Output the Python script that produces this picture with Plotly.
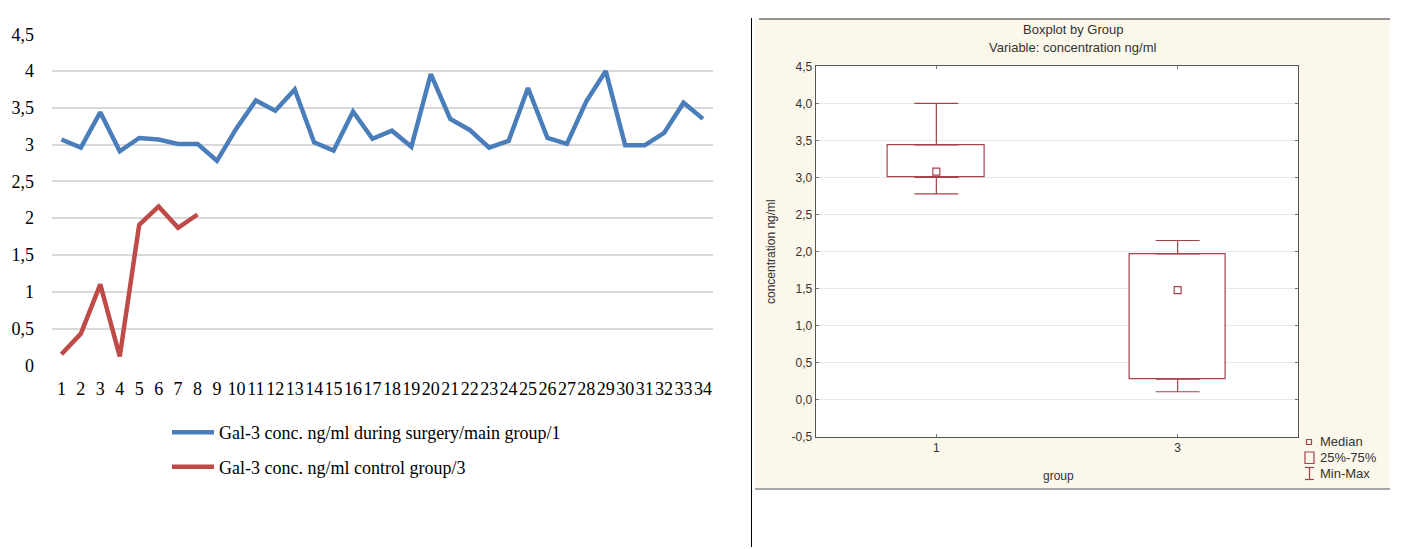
import plotly.graph_objects as go

# ---------------- data ----------------
patients = [str(i) for i in range(1, 35)]
main_group = [3.07, 2.96, 3.44, 2.91, 3.09, 3.07, 3.01, 3.01, 2.78, 3.22,
              3.60, 3.46, 3.75, 3.03, 2.92, 3.45, 3.08, 3.19, 2.97, 3.96,
              3.35, 3.20, 2.96, 3.05, 3.77, 3.09, 3.01, 3.59, 4.00, 2.99,
              2.99, 3.16, 3.57, 3.35]
control_group = [0.15, 0.43, 1.10, 0.12, 1.91, 2.16, 1.87, 2.05]
main_name = "Gal-3 conc. ng/ml during surgery/main group/1"
control_name = "Gal-3 conc. ng/ml control group/3"

left_tickvals = [0, 0.5, 1, 1.5, 2, 2.5, 3, 3.5, 4, 4.5]
left_ticktext = ["0", "0,5", "1", "1,5", "2", "2,5", "3", "3,5", "4", "4,5"]

groups = ["1", "3"]
q1 = [3.00, 0.28]
median = [3.08, 1.48]
q3 = [3.44, 1.97]
minimum = [2.78, 0.11]
maximum = [4.00, 2.15]

right_tickvals = [-0.5, 0, 0.5, 1, 1.5, 2, 2.5, 3, 3.5, 4, 4.5]
right_ticktext = ["-0,5", "0,0", "0,5", "1,0", "1,5", "2,0", "2,5", "3,0", "3,5", "4,0", "4,5"]

# ---------------- styles ----------------
W, H = 1414, 549
BLUE = "#4A7EBB"
RED = "#BE4B48"
BOXRED = "#A5434B"
SERIF = "Liberation Serif"
SANS = "Liberation Sans"

# page offset / scaling compensation
OX, OY, SY = 8.0, 17.0, 0.9636


def X(x):
    return (x - OX) / W


def Y(y):
    return (H - (y - OY) / SY) / H


fig = go.Figure()

fig.add_trace(go.Scatter(x=patients, y=main_group, mode="lines", name=main_name,
                         line=dict(color=BLUE, width=4.5), legendgroup="a"))
fig.add_trace(go.Scatter(x=patients[:len(control_group)], y=control_group, mode="lines",
                         name=control_name, line=dict(color=RED, width=4.5), legendgroup="b"))

# box (25%-75%)
fig.add_trace(go.Bar(x=groups, y=[b - a for a, b in zip(q1, q3)], base=q1, width=0.4,
                     marker=dict(color="white", line=dict(color=BOXRED, width=1.2)),
                     xaxis="x2", yaxis="y2", showlegend=False, name="25%-75%"))
# upper whisker
fig.add_trace(go.Scatter(x=groups, y=q3, mode="markers",
                         marker=dict(size=1, color="rgba(0,0,0,0)"),
                         error_y=dict(type="data", symmetric=False,
                                      array=[b - a for a, b in zip(q3, maximum)],
                                      arrayminus=[0] * len(groups),
                                      color=BOXRED, thickness=1.2, width=22),
                         xaxis="x2", yaxis="y2", showlegend=False, name="Max"))
# lower whisker
fig.add_trace(go.Scatter(x=groups, y=q1, mode="markers",
                         marker=dict(size=1, color="rgba(0,0,0,0)"),
                         error_y=dict(type="data", symmetric=False,
                                      array=[0] * len(groups),
                                      arrayminus=[a - b for a, b in zip(q1, minimum)],
                                      color=BOXRED, thickness=1.2, width=22),
                         xaxis="x2", yaxis="y2", showlegend=False, name="Min"))
# median
fig.add_trace(go.Scatter(x=groups, y=median, mode="markers",
                         marker=dict(symbol="square-open", size=7, color=BOXRED,
                                     line=dict(width=1.2, color=BOXRED)),
                         xaxis="x2", yaxis="y2", showlegend=False, name="Median"))

TOP = 0.998
shapes = [
    # right panel cream background
    dict(type="rect", xref="paper", yref="paper", x0=X(755), x1=X(1390),
         y0=Y(488), y1=TOP, fillcolor="#FBF7EB", line=dict(width=0), layer="below"),
    dict(type="rect", xref="x2 domain", yref="y2 domain", x0=0, x1=1, y0=0, y1=1,
         fillcolor="white", line=dict(width=0), layer="below"),
    dict(type="line", xref="paper", yref="paper", x0=X(759), x1=X(1390),
         y0=TOP, y1=TOP, line=dict(color="#707070", width=1.5)),
    dict(type="line", xref="paper", yref="paper", x0=X(755), x1=X(1390),
         y0=Y(488), y1=Y(488), line=dict(color="#8a8a8a", width=1.5)),
    # divider
    dict(type="line", xref="paper", yref="paper", x0=X(751.5), x1=X(751.5),
         y0=0, y1=1, line=dict(color="black", width=1)),
    # right legend icons
    dict(type="rect", xref="paper", yref="paper", x0=X(1306.5), x1=X(1311.5),
         y0=Y(443.5), y1=Y(438.5), line=dict(color=BOXRED, width=1.2)),
    dict(type="rect", xref="paper", yref="paper", x0=X(1305), x1=X(1314),
         y0=Y(462.5), y1=Y(451), line=dict(color=BOXRED, width=1.2)),
    dict(type="line", xref="paper", yref="paper", x0=X(1309.5), x1=X(1309.5),
         y0=Y(478.5), y1=Y(466.5), line=dict(color=BOXRED, width=1.2)),
    dict(type="line", xref="paper", yref="paper", x0=X(1305), x1=X(1314),
         y0=Y(466.5), y1=Y(466.5), line=dict(color=BOXRED, width=1.2)),
    dict(type="line", xref="paper", yref="paper", x0=X(1305), x1=X(1314),
         y0=Y(478.5), y1=Y(478.5), line=dict(color=BOXRED, width=1.2)),
]

ann_font = dict(family=SANS, size=13, color="#333333")
annotations = [
    dict(text="Boxplot by Group", x=X(1073), y=Y(29), xref="paper", yref="paper",
         showarrow=False, font=ann_font, xanchor="center", yanchor="middle"),
    dict(text="Variable: concentration ng/ml", x=X(1073), y=Y(47), xref="paper",
         yref="paper", showarrow=False, font=ann_font, xanchor="center", yanchor="middle"),
    dict(text="concentration ng/ml", x=X(771), y=Y(251), xref="paper", yref="paper",
         showarrow=False, textangle=-90, font=dict(family=SANS, size=12, color="#333333"),
         xanchor="center", yanchor="middle"),
    dict(text="group", x=X(1058), y=Y(475), xref="paper", yref="paper",
         showarrow=False, font=dict(family=SANS, size=12, color="#333333"),
         xanchor="center", yanchor="middle"),
    dict(text="Median", x=X(1318), y=Y(441), xref="paper", yref="paper",
         showarrow=False, font=ann_font, xanchor="left", yanchor="middle"),
    dict(text="25%-75%", x=X(1318), y=Y(457), xref="paper", yref="paper",
         showarrow=False, font=ann_font, xanchor="left", yanchor="middle"),
    dict(text="Min-Max", x=X(1318), y=Y(473), xref="paper", yref="paper",
         showarrow=False, font=ann_font, xanchor="left", yanchor="middle"),
]

fig.update_layout(
    width=W, height=H,
    margin=dict(l=0, r=0, t=0, b=0),
    paper_bgcolor="white", plot_bgcolor="white",
    separators=",.",
    showlegend=True,
    legend=dict(x=159 / W, y=(H - 411) / H, xanchor="left", yanchor="top",
                font=dict(family=SERIF, size=18, color="black"),
                bgcolor="rgba(0,0,0,0)", traceorder="grouped", tracegroupgap=8,
                itemwidth=42),
    xaxis=dict(domain=[X(51.7), X(712.7)], type="category", range=[-0.5, 33.5],
               tickmode="linear", tick0=0, dtick=1,
               showgrid=False, showline=False, zeroline=False,
               ticks="outside", ticklen=7, tickcolor="rgba(0,0,0,0)",
               tickfont=dict(family=SERIF, size=18, color="black"), tickangle=0),
    yaxis=dict(domain=[Y(364.3), Y(33.3)], range=[0, 4.5],
               tickvals=left_tickvals, ticktext=left_ticktext,
               showgrid=True, gridcolor="#D9D9D9", gridwidth=1.5, zeroline=False,
               showline=False, ticks="outside", ticklen=13, tickcolor="rgba(0,0,0,0)",
               tickfont=dict(family=SERIF, size=18, color="black")),
    xaxis2=dict(domain=[X(815.7), X(1298.3)], anchor="y2", type="category",
                categoryorder="array", categoryarray=groups, range=[-0.5, 1.5],
                showgrid=False, zeroline=False, showline=True, linecolor="#555555",
                linewidth=1.2, mirror="ticks", ticks="inside", ticklen=3,
                tickcolor="#777777",
                tickfont=dict(family=SANS, size=12, color="#333333")),
    yaxis2=dict(domain=[Y(436), Y(65.3)], anchor="x2", range=[-0.5, 4.5],
                tickvals=right_tickvals, ticktext=right_ticktext,
                showgrid=True, gridcolor="#E8E8E8", gridwidth=1.2, zeroline=False,
                showline=True, linecolor="#555555", linewidth=1.2, mirror="ticks",
                ticks="inside", ticklen=3, tickcolor="#777777",
                tickfont=dict(family=SANS, size=12, color="#333333")),
    shapes=shapes,
    annotations=annotations,
    bargap=0,
)

fig.write_html("out.html")
